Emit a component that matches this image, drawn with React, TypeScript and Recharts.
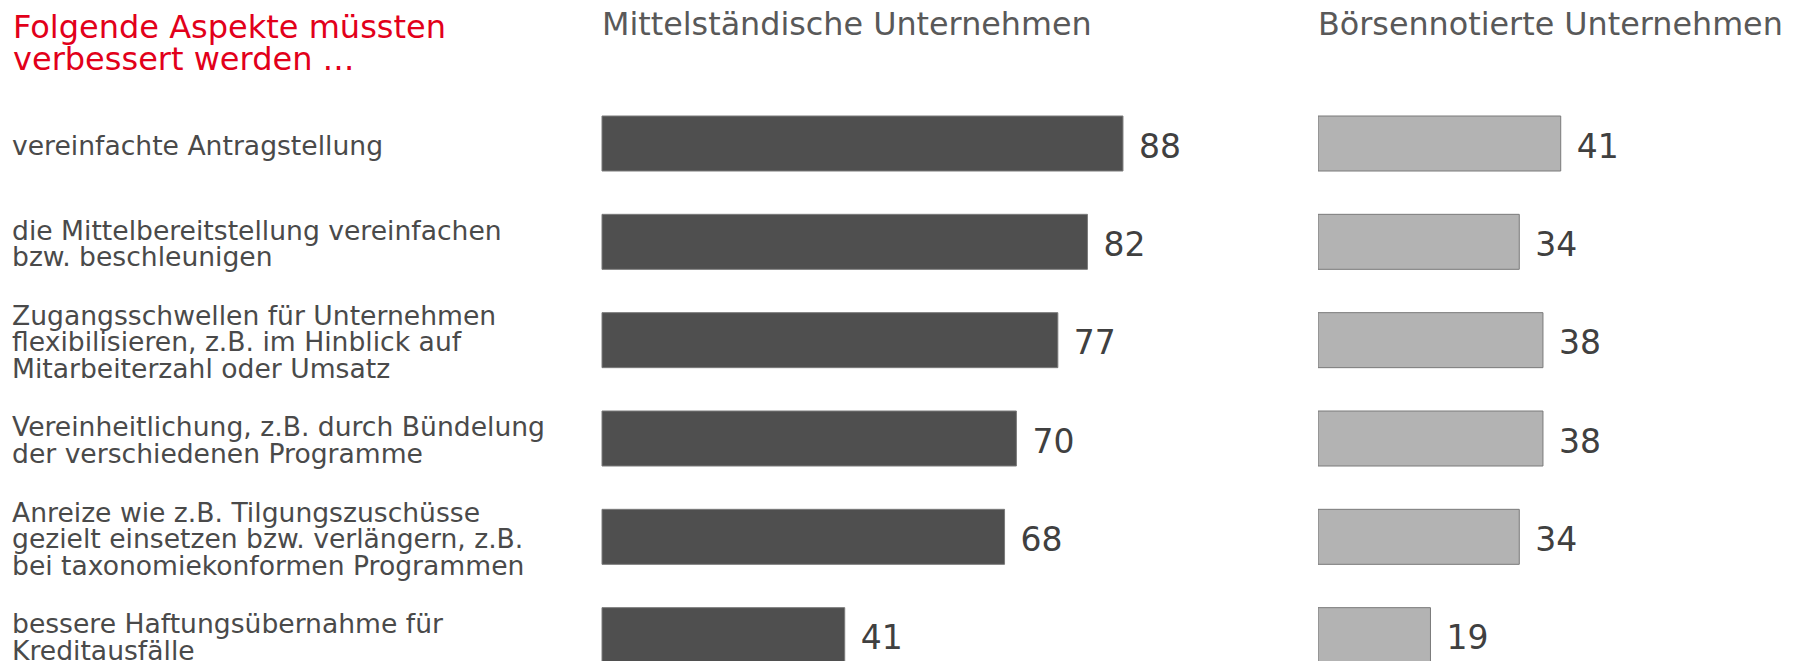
import { Bar, BarChart, LabelList, XAxis, YAxis } from "recharts";

const ASPECTS = [
  "vereinfachte Antragstellung",
  "die Mittelbereitstellung vereinfachen\nbzw. beschleunigen",
  "Zugangsschwellen für Unternehmen\nflexibilisieren, z.B. im Hinblick auf\nMitarbeiterzahl oder Umsatz",
  "Vereinheitlichung, z.B. durch Bündelung\nder verschiedenen Programme",
  "Anreize wie z.B. Tilgungszuschüsse\ngezielt einsetzen bzw. verlängern, z.B.\nbei taxonomiekonformen Programmen",
  "bessere Haftungsübernahme für\nKreditausfälle",
];
const MITTELSTAND = [88, 82, 77, 70, 68, 41];
const BOERSE = [41, 34, 38, 38, 34, 19];

const TITLE_LINES = ["Folgende Aspekte müssten", "verbessert werden …"];
const HEADER_MITTEL = "Mittelständische Unternehmen";
const HEADER_BOERSE = "Börsennotierte Unternehmen";

const FONT = "'DejaVu Sans', Verdana, sans-serif";
const TEXT_GREY = "#4a4a4a";
const RED = "#e2001a";

const mittelData = ASPECTS.map((label, i) => ({ label, value: MITTELSTAND[i] }));
const boerseData = ASPECTS.map((label, i) => ({ label, value: BOERSE[i] }));

const CHART_TOP = 94;
const CHART_HEIGHT = 684;
const LINE_GAP = 26.5;

function AspectTick(props: { y?: number; payload?: { value: string } }) {
  const { y = 0, payload } = props;
  const lines = String(payload?.value ?? "").split("\n");
  const first = y - ((lines.length - 1) / 2) * LINE_GAP + 11.5;
  return (
    <text x={12} y={first} fill={TEXT_GREY} fontSize={26.6} fontFamily={FONT} textAnchor="start">
      {lines.map((line, i) => (
        <tspan key={i} x={12} y={first + i * LINE_GAP}>
          {line}
        </tspan>
      ))}
    </text>
  );
}

function ValueLabel(props: { x?: number | string; y?: number | string; width?: number | string; height?: number | string; value?: number | string }) {
  const x = Number(props.x ?? 0);
  const y = Number(props.y ?? 0);
  const width = Number(props.width ?? 0);
  const height = Number(props.height ?? 0);
  return (
    <text x={x + width + 16} y={y + height / 2 + 14} fill="#404040" fontSize={33} fontFamily={FONT}>
      {props.value}
    </text>
  );
}

export default function App() {
  return (
    <div
      style={{
        position: "fixed",
        left: 0,
        top: 0,
        width: 1801,
        height: 661,
        overflow: "hidden",
        background: "#fff",
        fontFamily: FONT,
      }}
    >
      <svg width={1801} height={100} style={{ position: "absolute", left: 0, top: 0 }}>
        {TITLE_LINES.map((line, i) => (
          <text key={line} x={13} y={38 + i * 32} fill={RED} fontSize={32} fontFamily={FONT}>
            {line}
          </text>
        ))}
        <text x={602} y={35} fill="#595959" fontSize={31.8} fontFamily={FONT}>
          {HEADER_MITTEL}
        </text>
        <text x={1318} y={35} fill="#595959" fontSize={31.8} fontFamily={FONT}>
          {HEADER_BOERSE}
        </text>
      </svg>

      <div style={{ position: "absolute", left: 0, top: 0 }}>
        <BarChart
          width={1260}
          height={CHART_HEIGHT}
          data={mittelData}
          layout="vertical"
          margin={{ top: CHART_TOP, right: 66, bottom: 0, left: 0 }}
        >
          <XAxis type="number" domain={[0, 100]} hide />
          <YAxis
            type="category"
            dataKey="label"
            width={602}
            axisLine={false}
            tickLine={false}
            interval={0}
            tick={<AspectTick />}
          />
          <Bar dataKey="value" barSize={55} fill="#4f4f4f" stroke="#7a7a7a" strokeWidth={1} isAnimationActive={false}>
            <LabelList dataKey="value" content={<ValueLabel />} />
          </Bar>
        </BarChart>
      </div>

      <div style={{ position: "absolute", left: 1318, top: 0 }}>
        <BarChart
          width={592}
          height={CHART_HEIGHT}
          data={boerseData}
          layout="vertical"
          margin={{ top: CHART_TOP, right: 0, bottom: 0, left: 0 }}
        >
          <XAxis type="number" domain={[0, 100]} hide />
          <YAxis type="category" dataKey="label" hide />
          <Bar dataKey="value" barSize={55} fill="#b3b3b3" stroke="#7a7a7a" strokeWidth={1} isAnimationActive={false}>
            <LabelList dataKey="value" content={<ValueLabel />} />
          </Bar>
        </BarChart>
      </div>
    </div>
  );
}
